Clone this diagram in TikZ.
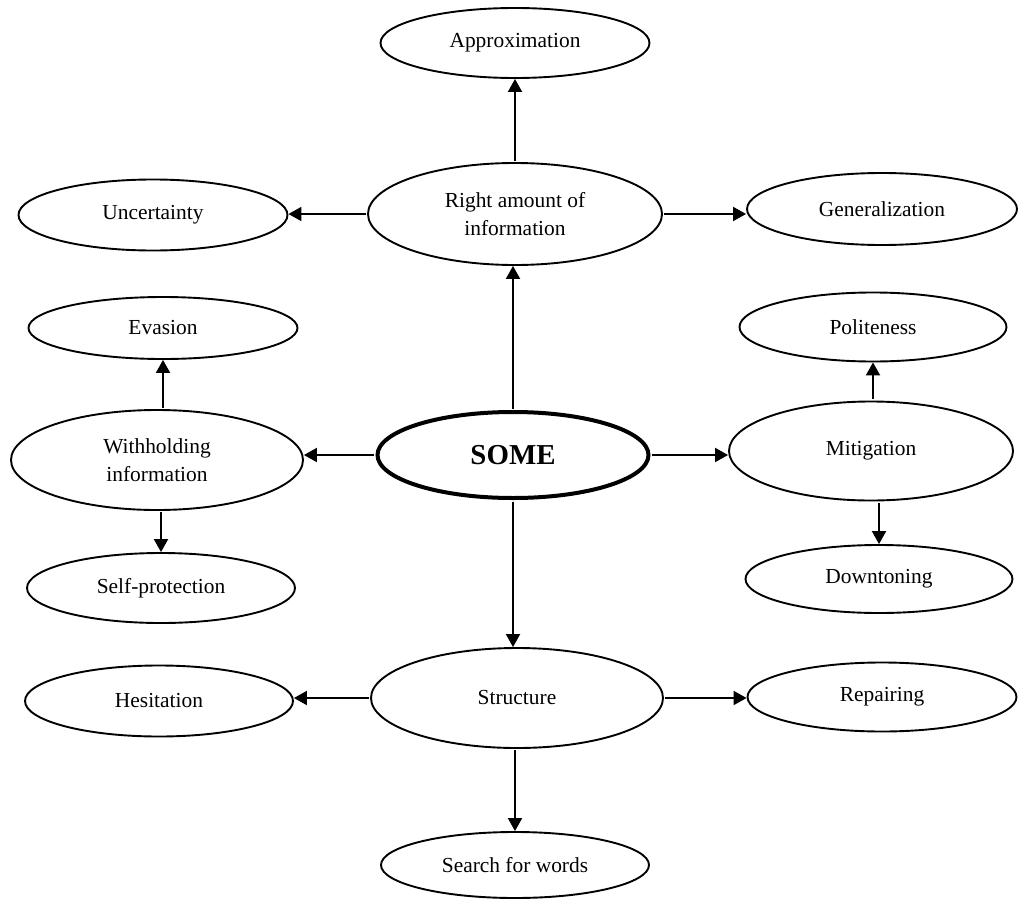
\documentclass[tikz,border=0pt]{standalone}
\usepackage{fontspec}
\setmainfont{Liberation Serif}
\usetikzlibrary{shapes.geometric,arrows.meta}
\tikzset{
  bub/.style={draw, ellipse, line width=1.9bp, inner sep=0pt, align=center,
    font=\fontsize{21.5}{28.5}\selectfont},
  hub/.style={bub, line width=4bp, font=\fontsize{29}{32}\selectfont\bfseries},
  arr/.style={line width=2bp, -{Triangle[length=13bp,width=14bp]}, shorten <=1.5bp}
}
\begin{document}
\begin{tikzpicture}[x=1bp,y=-1bp]
\useasboundingbox (0,0) rectangle (1019,901);
\node[bub, minimum width=269bp, minimum height=70bp] (approx) at (515,43) {Approximation};
\node[bub, minimum width=294bp, minimum height=102bp] (right) at (515,214) {Right amount of\\information};
\node[bub, minimum width=269bp, minimum height=71bp] (unc) at (153,215) {Uncertainty};
\node[bub, minimum width=270bp, minimum height=72bp] (gen) at (882,209) {Generalization};
\node[bub, minimum width=269bp, minimum height=62bp] (eva) at (163,328) {Evasion};
\node[bub, minimum width=267bp, minimum height=69bp] (pol) at (873,327) {Politeness};
\node[bub, minimum width=292bp, minimum height=100bp] (with) at (157,460) {Withholding\\information};
\node[hub, minimum width=271bp, minimum height=86bp] (some) at (513,455) {SOME};
\node[bub, minimum width=284bp, minimum height=99bp] (mit) at (871,451) {Mitigation};
\node[bub, minimum width=268bp, minimum height=70bp] (self) at (161,588) {Self-protection};
\node[bub, minimum width=267bp, minimum height=68bp] (down) at (879,579) {Downtoning};
\node[bub, minimum width=268bp, minimum height=71bp] (hes) at (159,701) {Hesitation};
\node[bub, minimum width=292bp, minimum height=100bp] (struct) at (517,698) {Structure};
\node[bub, minimum width=269bp, minimum height=69bp] (rep) at (882,697) {Repairing};
\node[bub, minimum width=268bp, minimum height=66bp] (search) at (515,865) {Search for words};

\draw[arr] (right.north) -- (approx.south);
\draw[arr] (some.north) -- (some.north |- right.south);
\draw[arr] (right.west) -- (right.west -| unc.east);
\draw[arr] (right.east) -- (right.east -| gen.west);
\draw[arr] (eva.south |- with.north) -- (eva.south);
\draw[arr] (some.west) -- (some.west -| with.east);
\draw[arr] (self.north |- with.south) -- (self.north);
\draw[arr] (some.east) -- (some.east -| mit.west);
\draw[arr] (pol.south |- mit.north) -- (pol.south);
\draw[arr] (down.north |- mit.south) -- (down.north);
\draw[arr] (some.south) -- (some.south |- struct.north);
\draw[arr] (struct.west) -- (struct.west -| hes.east);
\draw[arr] (struct.east) -- (struct.east -| rep.west);
\draw[arr] (search.north |- struct.south) -- (search.north);
\end{tikzpicture}
\end{document}
